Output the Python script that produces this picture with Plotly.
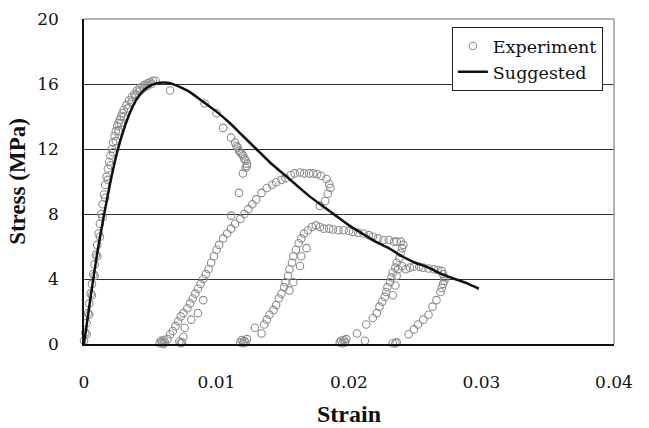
import plotly.graph_objects as go

# ---------------- Data ----------------
# Suggested (model) curve
sug_strain = [0, 0.0005, 0.001, 0.0015, 0.002, 0.0025, 0.003, 0.0035, 0.004, 0.0045,
              0.005, 0.0055, 0.006, 0.0065, 0.007, 0.008, 0.009, 0.010, 0.011, 0.012,
              0.013, 0.014, 0.015, 0.016, 0.017, 0.018, 0.019, 0.020, 0.021, 0.022,
              0.023, 0.024, 0.025, 0.026, 0.027, 0.028, 0.029, 0.0298]
sug_stress = [0, 2.9, 5.6, 7.9, 10.0, 11.8, 13.2, 14.3, 15.1, 15.6,
              15.9, 16.05, 16.1, 16.05, 15.9, 15.5, 14.9, 14.3, 13.6, 12.8,
              12.0, 11.2, 10.5, 9.8, 9.1, 8.5, 7.9, 7.3, 6.8, 6.3,
              5.9, 5.4, 5.0, 4.7, 4.3, 4.0, 3.7, 3.4]

# Experiment, grouped by segment
loading_a = [(0.0000, 0.2), (0.0001, 0.7), (0.0002, 1.3), (0.0003, 1.9), (0.0004, 2.5),
             (0.0005, 3.1), (0.0006, 3.7), (0.0007, 4.3), (0.0008, 4.9), (0.0009, 5.5),
             (0.0010, 6.1), (0.0011, 6.8), (0.0012, 7.4), (0.0013, 8.0), (0.0014, 8.6),
             (0.0015, 9.2), (0.0016, 9.8), (0.0017, 10.3), (0.0018, 10.8), (0.0019, 11.2),
             (0.0020, 11.6), (0.0021, 12.0), (0.0022, 12.4), (0.0023, 12.8), (0.0024, 13.1),
             (0.0025, 13.4), (0.0026, 13.6), (0.0027, 13.8), (0.0028, 14.0), (0.0029, 14.2),
             (0.0030, 14.4), (0.0032, 14.7), (0.0034, 15.0), (0.0036, 15.2), (0.0038, 15.4),
             (0.0040, 15.6), (0.0042, 15.75), (0.0044, 15.85), (0.0046, 15.95), (0.0048, 16.05),
             (0.0050, 16.1), (0.0052, 16.2), (0.0054, 16.2)]
loading_b = [(0.0002, 0.6), (0.0004, 1.8), (0.0006, 3.0), (0.0008, 4.2), (0.0010, 5.4),
             (0.0012, 6.6), (0.0014, 7.8), (0.0016, 9.0), (0.0018, 10.1), (0.0020, 11.0),
             (0.0022, 11.8), (0.0024, 12.5), (0.0026, 13.1), (0.0028, 13.6), (0.0030, 14.0),
             (0.0033, 14.5), (0.0036, 14.9), (0.0039, 15.3), (0.0042, 15.55), (0.0045, 15.75),
             (0.0048, 15.9), (0.0051, 16.0)]
softening_1 = [(0.0065, 15.6), (0.0091, 14.8), (0.0100, 14.2), (0.0105, 13.3), (0.0111, 12.7),
               (0.0114, 12.4), (0.0115, 12.2), (0.0116, 12.1), (0.0117, 11.9), (0.0118, 11.8),
               (0.0119, 11.7), (0.0120, 11.6), (0.0121, 11.4), (0.0122, 11.3), (0.0123, 11.1),
               (0.0123, 10.95), (0.0122, 10.85), (0.0120, 10.5)]
unloading_1 = [(0.0117, 9.3), (0.0111, 7.9), (0.0090, 2.7), (0.0086, 1.9), (0.0081, 1.5),
               (0.0076, 1.0), (0.0075, 0.45), (0.0074, 0.1), (0.0073, 0.05), (0.0072, 0.15)]
base_cluster_1 = [(0.0057, 0.05), (0.0058, 0.2), (0.0059, 0.1), (0.0060, 0.25),
                  (0.0061, 0.1), (0.0060, 0.0)]
base_cluster_2 = [(0.0118, 0.1), (0.0119, 0.25), (0.0120, 0.05), (0.0121, 0.2),
                  (0.0122, 0.1), (0.0123, 0.3)]
reloading_2 = [(0.0063, 0.3), (0.0065, 0.6), (0.0067, 0.8), (0.0069, 1.1), (0.0071, 1.4),
               (0.0073, 1.7), (0.0075, 1.9), (0.0078, 2.2), (0.0080, 2.5), (0.0082, 2.8),
               (0.0084, 3.1), (0.0086, 3.4), (0.0088, 3.7), (0.0090, 4.0), (0.0092, 4.3),
               (0.0094, 4.6), (0.0096, 5.0), (0.0098, 5.4), (0.0100, 5.8), (0.0102, 6.1),
               (0.0105, 6.5), (0.0108, 6.8), (0.0111, 7.1), (0.0114, 7.4), (0.0118, 7.7),
               (0.0121, 8.0), (0.0124, 8.3), (0.0127, 8.6), (0.0130, 8.9), (0.0134, 9.3),
               (0.0138, 9.6), (0.0142, 9.8), (0.0145, 9.95), (0.0149, 10.1), (0.0152, 10.2),
               (0.0156, 10.4), (0.0159, 10.5)]
peak_loop_2 = [(0.0163, 10.55), (0.0166, 10.5), (0.0170, 10.5), (0.0173, 10.5), (0.0176, 10.45),
               (0.0179, 10.35), (0.0183, 10.15), (0.0185, 9.85), (0.0186, 9.6), (0.0184, 9.25),
               (0.0182, 8.8), (0.0178, 8.5)]
sparse_2 = [(0.0168, 5.9), (0.0164, 5.4), (0.0163, 4.8), (0.0158, 3.8), (0.0155, 3.3)]
reloading_3 = [(0.0129, 1.0), (0.0134, 0.65), (0.0136, 1.2), (0.0138, 1.5), (0.0140, 1.8),
               (0.0143, 2.1), (0.0145, 2.4), (0.0147, 2.8), (0.0149, 3.1), (0.0151, 3.5),
               (0.0152, 3.8), (0.0154, 4.2), (0.0155, 4.6), (0.0157, 5.0), (0.0158, 5.4),
               (0.0160, 5.8), (0.0162, 6.2), (0.0164, 6.5), (0.0166, 6.8), (0.0169, 7.0),
               (0.0172, 7.2), (0.0175, 7.3), (0.0178, 7.2), (0.0181, 7.1), (0.0185, 7.1),
               (0.0188, 7.05), (0.0192, 7.0), (0.0196, 7.0), (0.0200, 6.95), (0.0203, 6.9),
               (0.0207, 6.85), (0.0211, 6.8), (0.0215, 6.7), (0.0218, 6.6), (0.0222, 6.5),
               (0.0226, 6.4), (0.0230, 6.4), (0.0234, 6.3)]
base_cluster_3 = [(0.0193, 0.1), (0.0194, 0.2), (0.0195, 0.05), (0.0196, 0.25),
                  (0.0197, 0.1), (0.0198, 0.3)]
reloading_4 = [(0.0206, 0.65), (0.0212, 0.2), (0.0213, 1.2), (0.0218, 1.6), (0.0221, 1.9),
               (0.0223, 2.3), (0.0225, 2.6), (0.0227, 2.9), (0.0228, 3.2), (0.0229, 3.5),
               (0.0231, 3.8), (0.0232, 4.1), (0.0233, 4.4), (0.0235, 4.7), (0.0236, 5.0),
               (0.0238, 5.3), (0.0239, 5.6), (0.0240, 5.9), (0.0241, 6.1), (0.0239, 6.3),
               (0.0236, 6.3), (0.0233, 3.0), (0.0235, 3.6), (0.0236, 4.2), (0.0237, 4.6)]
plateau_4 = [(0.0240, 4.8), (0.0243, 4.6), (0.0246, 4.7), (0.0249, 4.75), (0.0253, 4.75),
             (0.0256, 4.7), (0.0260, 4.65), (0.0264, 4.6), (0.0267, 4.55), (0.0270, 4.5),
             (0.0271, 4.3), (0.0272, 4.1), (0.0272, 3.9), (0.0271, 3.7), (0.0270, 3.45),
             (0.0269, 3.2)]
unloading_4 = [(0.0266, 2.7), (0.0263, 2.3), (0.0260, 1.8), (0.0256, 1.5), (0.0252, 1.2),
               (0.0249, 0.9), (0.0245, 0.6)]
base_cluster_4 = [(0.0233, 0.05), (0.0235, 0.05), (0.0236, 0.1)]

segments = [loading_a, loading_b, softening_1, unloading_1, base_cluster_1, base_cluster_2,
            reloading_2, peak_loop_2, sparse_2, reloading_3, base_cluster_3, reloading_4,
            plateau_4, unloading_4, base_cluster_4]
exp_strain = [p[0] for seg in segments for p in seg]
exp_stress = [p[1] for seg in segments for p in seg]

x_ticks = [0, 0.01, 0.02, 0.03, 0.04]
x_tick_text = ["0", "0.01", "0.02", "0.03", "0.04"]
y_ticks = [0, 4, 8, 12, 16, 20]

# ---------------- Figure ----------------
FONT = "Liberation Serif"
REG = "DejaVu Serif"
fig = go.Figure()
fig.add_trace(go.Scatter(
    x=exp_strain, y=exp_stress, mode="markers", name="Experiment",
    marker=dict(symbol="circle-open", size=7.5, color="#8c8c8c", line=dict(width=1.1)),
    cliponaxis=False,
))
fig.add_trace(go.Scatter(
    x=sug_strain, y=sug_stress, mode="lines", name="Suggested",
    line=dict(color="#111111", width=2.5, shape="spline", smoothing=0.6),
))

fig.update_layout(
    width=649, height=428,
    margin=dict(l=84, r=35, t=19, b=84),
    plot_bgcolor="white", paper_bgcolor="white",
    font=dict(family=REG, size=17, color="#111111"),
    showlegend=True,
    legend=dict(
        x=0.979, y=0.975, xanchor="right", yanchor="top",
        bgcolor="white", bordercolor="#222222", borderwidth=1,
        font=dict(family=REG, size=17.5, color="#111111"),
        tracegroupgap=0, itemwidth=30,
    ),
    xaxis=dict(
        range=[0, 0.04], tickvals=x_ticks, ticktext=x_tick_text,
        tickfont=dict(family=REG, size=17), automargin=False,
        showgrid=False, zeroline=False,
        showline=True, linecolor="#111111", linewidth=1.5,
        ticks="outside", ticklen=22, tickcolor="rgba(0,0,0,0)",
        title=dict(text="<b>Strain</b>", font=dict(family=FONT, size=24), standoff=14),
    ),
    yaxis=dict(
        range=[0, 20], tickvals=y_ticks,
        tickfont=dict(family=REG, size=17), automargin=False,
        showgrid=True, gridcolor="#333333", gridwidth=1,
        zeroline=False,
        showline=True, linecolor="#111111", linewidth=1.5,
        ticks="outside", ticklen=20, tickcolor="rgba(0,0,0,0)",
        title=dict(text="<b>Stress (MPa)</b>", font=dict(family=FONT, size=23), standoff=5),
    ),
    shapes=[
        dict(type="line", xref="paper", yref="paper", x0=0, x1=1, y0=1, y1=1,
             line=dict(color="#9a9a9a", width=1.5), layer="above"),
        dict(type="line", xref="paper", yref="paper", x0=1, x1=1, y0=0, y1=1,
             line=dict(color="#9a9a9a", width=1.5), layer="above"),
    ],
    annotations=[
        dict(x=0.0197, y=-0.55, xref="x", yref="y", text="c", showarrow=False,
             font=dict(family=REG, size=9, color="#333333")),
    ],
)

fig.write_html("out.html")
